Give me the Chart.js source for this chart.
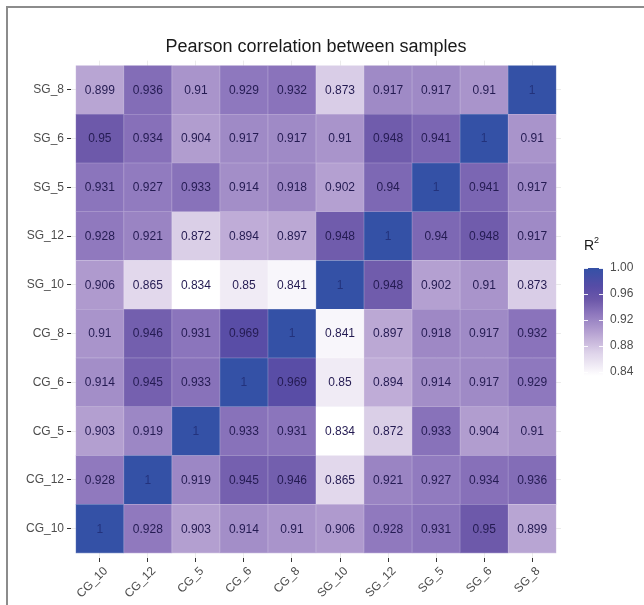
<!DOCTYPE html>
<html>
<head>
<meta charset="utf-8">
<script src="https://cdn.jsdelivr.net/npm/chart.js@4.4.1/dist/chart.umd.min.js"></script>
<style>
  html, body { margin: 0; padding: 0; background: #fff; }
  #wrap { position: relative; width: 644px; height: 605px; }
  #frame { position: absolute; left: 6px; top: 6px; right: 0; bottom: 0;
           border-top: 2px solid #8c8c8c; border-left: 2px solid #8c8c8c; pointer-events: none; }
</style>
</head>
<body>
<div id="wrap"><canvas id="heat" width="644" height="605"></canvas><div id="frame"></div></div>
<script>
// sample names, same order on both axes (x left->right, y bottom->top)
const samples = ['CG_10', 'CG_12', 'CG_5', 'CG_6', 'CG_8', 'SG_10', 'SG_12', 'SG_5', 'SG_6', 'SG_8'];

// one row per y sample, values follow the x order above
const rowCG10 = [1, 0.928, 0.903, 0.914, 0.91, 0.906, 0.928, 0.931, 0.95, 0.899];
const rowCG12 = [0.928, 1, 0.919, 0.945, 0.946, 0.865, 0.921, 0.927, 0.934, 0.936];
const rowCG5  = [0.903, 0.919, 1, 0.933, 0.931, 0.834, 0.872, 0.933, 0.904, 0.91];
const rowCG6  = [0.914, 0.945, 0.933, 1, 0.969, 0.85, 0.894, 0.914, 0.917, 0.929];
const rowCG8  = [0.91, 0.946, 0.931, 0.969, 1, 0.841, 0.897, 0.918, 0.917, 0.932];
const rowSG10 = [0.906, 0.865, 0.834, 0.85, 0.841, 1, 0.948, 0.902, 0.91, 0.873];
const rowSG12 = [0.928, 0.921, 0.872, 0.894, 0.897, 0.948, 1, 0.94, 0.948, 0.917];
const rowSG5  = [0.931, 0.927, 0.933, 0.914, 0.918, 0.902, 0.94, 1, 0.941, 0.917];
const rowSG6  = [0.95, 0.934, 0.904, 0.917, 0.917, 0.91, 0.948, 0.941, 1, 0.91];
const rowSG8  = [0.899, 0.936, 0.91, 0.929, 0.932, 0.873, 0.917, 0.917, 0.91, 1];
const rows = [rowCG10, rowCG12, rowCG5, rowCG6, rowCG8, rowSG10, rowSG12, rowSG5, rowSG6, rowSG8];

// colour bar
const legendTicks = [0.84, 0.88, 0.92, 0.96, 1.00];
const fillMin = 0.834, fillMax = 1;

const FONT = '"Liberation Sans", Arial, Helvetica, sans-serif';

// white -> purple -> blue
const stops = [
  [0.834, [255, 255, 255]],
  [0.87,  [221, 210, 233]],
  [0.90,  [183, 163, 210]],
  [0.93,  [141, 118, 189]],
  [0.95,  [109, 89, 170]],
  [0.97,  [88, 76, 166]],
  [1.00,  [52, 81, 166]]
];
function mixRgb(v) {
  if (v <= stops[0][0]) return stops[0][1];
  for (let i = 1; i < stops.length; i++) {
    if (v <= stops[i][0]) {
      const [a, ca] = stops[i - 1], [b, cb] = stops[i];
      const t = (v - a) / (b - a);
      return ca.map((c, k) => Math.round(c + (cb[k] - c) * t));
    }
  }
  return stops[stops.length - 1][1];
}
const rgb = c => `rgb(${c[0]},${c[1]},${c[2]})`;
const fillColor = v => rgb(mixRgb(v));
const edgeColor = v => rgb(mixRgb(v).map(c => Math.round(c + (255 - c) * 0.35)));

const datasets = rows.map((vals, r) => ({
  label: samples[r],
  data: vals.map((v, c) => ({ x: c, y: [r - 0.5, r + 0.5], v: v })),
  backgroundColor: vals.map(fillColor),
  borderColor: vals.map(edgeColor),
  borderWidth: 0.6,
  borderSkipped: false,
  barPercentage: 1,
  categoryPercentage: 1,
  grouped: false
}));

const onlySamples = scale => { scale.ticks = samples.map((s, i) => ({ value: i })); };

const cellText = {
  id: 'cellText',
  afterDatasetsDraw(chart) {
    const ctx = chart.ctx;
    ctx.save();
    ctx.font = '12px ' + FONT;
    ctx.textAlign = 'center';
    ctx.textBaseline = 'middle';
    chart.data.datasets.forEach((ds, di) => {
      chart.getDatasetMeta(di).data.forEach((el, i) => {
        const v = ds.data[i].v;
        const p = el.getCenterPoint();
        ctx.fillStyle = v === 1 ? 'rgba(30,40,110,0.75)' : '#241b52';
        ctx.fillText(v === 1 ? '1' : String(v), p.x, p.y + 0.5);
      });
    });
    ctx.restore();
  }
};

const colourBar = {
  id: 'colourBar',
  afterDraw(chart) {
    const ctx = chart.ctx;
    const x0 = 584, w = 19;
    const yTop = 268, pxPerUnit = 650;
    const yOf = v => yTop + (fillMax - v) * pxPerUnit;
    const y1 = yOf(fillMax), y2 = yOf(fillMin);
    ctx.save();
    const g = ctx.createLinearGradient(0, y1, 0, y2);
    for (let k = 0; k <= 30; k++) {
      const v = fillMax - (fillMax - fillMin) * k / 30;
      g.addColorStop(k / 30, fillColor(v));
    }
    ctx.fillStyle = g;
    ctx.fillRect(x0, y1, w, y2 - y1);
    ctx.strokeStyle = 'rgba(255,255,255,0.9)';
    ctx.lineWidth = 1;
    ctx.font = '12px ' + FONT;
    ctx.fillStyle = '#4d4d4d';
    ctx.textAlign = 'left';
    ctx.textBaseline = 'middle';
    legendTicks.forEach(t => {
      const y = Math.round(yOf(t)) + 0.5;
      ctx.beginPath();
      ctx.moveTo(x0, y); ctx.lineTo(x0 + 4, y);
      ctx.moveTo(x0 + w - 4, y); ctx.lineTo(x0 + w, y);
      ctx.stroke();
      ctx.fillText(t.toFixed(2), x0 + w + 7, yOf(t));
    });
    ctx.fillStyle = '#1a1a1a';
    ctx.textBaseline = 'alphabetic';
    ctx.font = '14px ' + FONT;
    ctx.fillText('R', x0, 250);
    ctx.font = '9px ' + FONT;
    ctx.fillText('2', x0 + 10, 243);
    ctx.restore();
  }
};

new Chart(document.getElementById('heat'), {
  type: 'bar',
  data: { datasets: datasets },
  options: {
    responsive: false,
    animation: false,
    events: [],
    layout: { padding: { top: 20, right: 83, bottom: 0, left: 0 } },
    plugins: {
      legend: { display: false },
      tooltip: { enabled: false },
      title: {
        display: true,
        text: 'Pearson correlation between samples',
        fullSize: false,
        color: '#1a1a1a',
        font: { family: FONT, size: 18, weight: 'normal' },
        padding: { top: 16, bottom: 3 }
      }
    },
    scales: {
      x: {
        type: 'linear',
        offset: false,
        min: -0.6,
        max: 9.6,
        afterBuildTicks: onlySamples,
        afterFit: s => { s.height = 47; s.paddingLeft = 0; s.paddingRight = 0; },
        border: { display: false },
        grid: { offset: false, color: '#ebebeb', tickColor: '#333333', tickLength: 4, lineWidth: 1 },
        ticks: {
          callback: v => samples[v],
          minRotation: 45,
          maxRotation: 45,
          labelOffset: 6,
          padding: 2,
          color: '#4d4d4d',
          font: { family: FONT, size: 12 }
        }
      },
      y: {
        type: 'linear',
        offset: false,
        min: -0.6,
        max: 9.6,
        afterBuildTicks: onlySamples,
        afterFit: s => { s.width = 71; s.paddingTop = 0; s.paddingBottom = 0; },
        border: { display: false },
        grid: { color: '#ebebeb', tickColor: '#333333', tickLength: 4, lineWidth: 1 },
        ticks: {
          callback: v => samples[v],
          padding: 3,
          color: '#4d4d4d',
          font: { family: FONT, size: 12 }
        }
      }
    }
  },
  plugins: [cellText, colourBar]
});
</script>
</body>
</html>
